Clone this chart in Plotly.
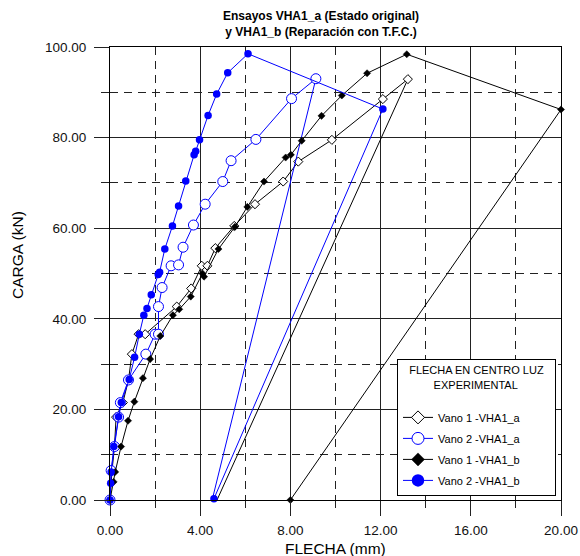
import plotly.graph_objects as go

# Vano 1 - VHA1_a (open diamonds)
v1a_x = [0.0, 0.09, 0.2, 0.27, 0.57, 0.82, 0.97, 1.27, 1.56, 2.96, 3.6, 4.07, 4.32, 4.67, 5.51, 6.43, 7.68, 8.35, 9.84, 12.1, 13.21, 4.7]
v1a_y = [0.0, 6.5, 11.8, 18.3, 21.5, 26.5, 32.2, 36.6, 36.6, 42.7, 46.7, 51.7, 51.7, 55.6, 60.5, 65.3, 70.3, 74.7, 79.5, 88.5, 92.9, -0.5]

# Vano 2 - VHA1_a (open circles)
v2a_x = [0.0, 0.05, 0.2, 0.38, 0.46, 0.82, 1.59, 2.0, 2.15, 2.15, 2.31, 2.71, 3.04, 3.24, 3.7, 4.22, 5.0, 5.37, 6.47, 8.05, 9.13, 4.51]
v2a_y = [0.0, 6.5, 11.8, 18.3, 21.5, 26.5, 32.2, 36.6, 36.6, 42.7, 46.9, 51.7, 51.9, 55.8, 60.7, 65.3, 70.3, 74.9, 79.6, 88.6, 93.0, -0.4]

# Vano 1 - VHA1_b (filled diamonds)
v1b_x = [0.0, 0.16, 0.23, 0.49, 0.8, 1.08, 1.46, 1.78, 2.23, 2.79, 3.07, 3.58, 4.1, 4.17, 4.81, 5.54, 6.09, 6.83, 7.79, 8.02, 8.5, 9.38, 10.28, 11.4, 13.16, 20.0, 8.0]
v1b_y = [0.0, 4.0, 6.2, 11.8, 17.5, 21.7, 26.9, 31.1, 36.2, 40.8, 42.1, 44.9, 50.0, 49.3, 55.4, 60.3, 64.7, 70.3, 75.6, 76.2, 79.3, 84.8, 89.3, 94.2, 98.4, 86.2, 0.0]

# Vano 2 - VHA1_b (filled circles)
v2b_x = [0.0, 0.03, 0.05, 0.17, 0.38, 0.5, 0.85, 1.09, 1.3, 1.5, 1.64, 1.83, 2.14, 2.2, 2.43, 2.77, 3.04, 3.36, 3.73, 3.8, 3.97, 4.35, 4.73, 5.22, 6.12, 12.1, 4.61]
v2b_y = [0.0, 3.7, 6.2, 11.8, 18.4, 21.5, 26.6, 31.5, 36.6, 40.8, 42.3, 45.3, 49.8, 50.3, 55.4, 60.5, 64.9, 70.4, 76.2, 77.0, 79.5, 84.9, 89.6, 94.3, 98.5, 86.3, 0.3]

names = ["Vano 1 -VHA1_a", "Vano 2 -VHA1_a", "Vano 1 -VHA1_b", "Vano 2 -VHA1_b"]

x_ticks = [0, 4, 8, 12, 16, 20]
y_ticks = [0, 20, 40, 60, 80, 100]

FONT = "Arial, Liberation Sans, sans-serif"
BLUE = "#0000FF"
NB = "&nbsp;"

styles = [
    dict(line=dict(color="black", width=1),
         marker=dict(symbol="diamond", size=7, color="white", line=dict(color="black", width=1)),
         lmarker=dict(symbol="diamond", size=10, color="white", line=dict(color="black", width=1))),
    dict(line=dict(color=BLUE, width=1),
         marker=dict(symbol="circle", size=10, color="white", line=dict(color=BLUE, width=1)),
         lmarker=dict(symbol="circle", size=12, color="white", line=dict(color=BLUE, width=1))),
    dict(line=dict(color="black", width=1),
         marker=dict(symbol="diamond", size=5.5, color="black", line=dict(color="black", width=0.5)),
         lmarker=dict(symbol="diamond", size=10, color="black", line=dict(color="black", width=0.5))),
    dict(line=dict(color=BLUE, width=1),
         marker=dict(symbol="circle", size=7.5, color=BLUE),
         lmarker=dict(symbol="circle", size=12.5, color=BLUE)),
]
series = [(v1a_x, v1a_y), (v2a_x, v2a_y), (v1b_x, v1b_y), (v2b_x, v2b_y)]

fig = go.Figure()
for i, ((xs, ys), st) in enumerate(zip(series, styles)):
    fig.add_trace(go.Scatter(x=xs, y=ys, mode="lines+markers", name=names[i],
                             line=st["line"], marker=st["marker"], showlegend=False,
                             cliponaxis=False))
# legend entries (larger symbols, as in the reference legend)
for i, st in enumerate(styles):
    fig.add_trace(go.Scatter(x=[None], y=[None], mode="lines+markers", name=names[i],
                             legendgroup="g%d" % i,
                             line=st["line"], marker=st["lmarker"], showlegend=True))

axis_common = dict(
    showline=True, linecolor="black", linewidth=1, mirror=True,
    showgrid=True, gridcolor="#222222", gridwidth=1, automargin=False,
    zeroline=False, ticks="outside", ticklen=15, tickcolor="#222222",
    tickformat=".2f", tickfont=dict(family=FONT, size=13.5, color="#111111"),
)

fig.update_xaxes(range=[0, 20], tickvals=x_ticks,
                 minor=dict(dtick=2, ticks="outside", ticklen=7, tickcolor="#222222",
                            showgrid=True, gridcolor="#222222", griddash="8px,6px", gridwidth=1),
                 ticklabelstandoff=3,
                 **axis_common)
fig.update_yaxes(range=[0, 100], tickvals=y_ticks,
                 minor=dict(dtick=10, ticks="outside", ticklen=8, tickcolor="#222222",
                            showgrid=True, gridcolor="#222222", griddash="8px,6px", gridwidth=1),
                 ticklabelstandoff=5,
                 **axis_common)

legend_title = NB * 3 + "FLECHA EN CENTRO LUZ" + NB * 3 + "<br>" + NB * 11 + "EXPERIMENTAL<br> "

fig.update_layout(
    width=580, height=556,
    margin=dict(l=110, r=19, t=47, b=56, autoexpand=False),
    paper_bgcolor="white", plot_bgcolor="white",
    font=dict(family=FONT, color="black"),
    legend=dict(x=(397 - 110) / 451, y=(500 - 496) / 453, xanchor="left", yanchor="bottom",
                bgcolor="white", bordercolor="black", borderwidth=1,
                font=dict(family=FONT, size=11, color="black"),
                tracegroupgap=2,
                title=dict(text=legend_title, side="top",
                           font=dict(family=FONT, size=11, color="black"))),
    annotations=[
        dict(text="<b>Ensayos VHA1_a (Estado original)</b><br><b>y VHA1_b (Reparación con T.F.C.)</b>",
             xref="paper", yref="paper", x=(321 - 110) / 451, y=(500 - 23.5) / 453,
             xanchor="center", yanchor="middle", showarrow=False,
             font=dict(family=FONT, size=12, color="black")),
        dict(text="CARGA (kN)", textangle=-90, xref="paper", yref="paper",
             x=(17 - 110) / 451, y=(500 - 255) / 453, xanchor="center", yanchor="middle",
             showarrow=False, font=dict(family=FONT, size=15.5, color="black")),
        dict(text="FLECHA (mm)", xref="paper", yref="paper",
             x=0.5, y=(500 - 548) / 453, xanchor="center", yanchor="middle",
             showarrow=False, font=dict(family=FONT, size=15.5, color="black")),
    ],
)

fig.write_html("out.html")
